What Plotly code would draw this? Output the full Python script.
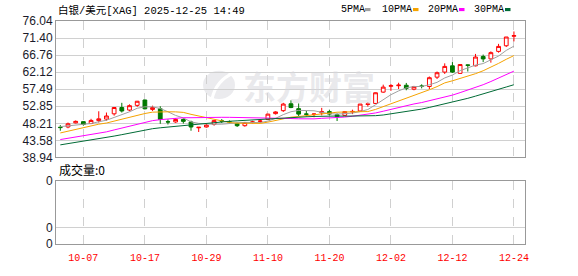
import plotly.graph_objects as go
import pandas as pd

# ---------------- data ----------------
dates = ["10-02","10-03","10-06","10-07","10-08","10-09","10-10","10-13","10-14","10-15",
         "10-16","10-17","10-20","10-21","10-22","10-23","10-24","10-27","10-28","10-29",
         "10-30","10-31","11-03","11-04","11-05","11-06","11-07","11-10","11-11","11-12",
         "11-13","11-14","11-17","11-18","11-19","11-20","11-21","11-24","11-25","11-26",
         "11-27","11-28","12-01","12-02","12-03","12-04","12-05","12-08","12-09","12-10",
         "12-11","12-12","12-15","12-16","12-17","12-18","12-19","12-22","12-23","12-24"]

opens = [47.15,47.22,48.34,48.67,48.16,48.95,49.37,50.80,52.51,51.82,
         53.10,54.56,52.00,52.17,48.65,48.59,49.27,48.59,47.00,47.22,
         47.95,48.88,48.62,48.16,47.57,48.50,48.75,49.27,50.85,51.66,
         53.53,52.20,50.75,50.60,51.05,51.40,50.55,50.38,51.30,51.57,
         53.35,53.62,56.70,58.30,58.45,58.57,57.50,58.35,58.23,60.77,
         62.15,63.85,61.80,64.10,63.85,66.40,65.73,67.78,69.31,71.90]
highs = [47.73,48.42,49.00,48.75,49.44,51.49,51.15,52.60,53.79,53.37,
         54.30,54.60,53.02,52.85,49.27,49.60,49.60,48.93,47.20,48.25,
         49.00,49.37,49.00,48.42,48.59,48.90,49.30,50.80,51.50,53.79,
         54.48,53.62,51.57,50.90,52.42,51.92,50.90,51.50,51.92,53.45,
         53.96,56.60,58.73,58.90,59.24,59.20,58.40,58.82,60.95,62.30,
         64.53,64.86,64.20,64.20,67.09,66.91,67.78,69.82,71.69,73.20]
lows = [46.20,46.88,48.20,47.57,48.00,48.42,48.93,50.30,51.15,51.49,
        52.69,52.00,51.57,48.09,47.90,48.34,48.16,46.20,45.86,47.06,
        47.57,48.30,48.20,47.22,47.30,48.20,48.30,49.10,50.60,51.31,
        52.33,50.21,50.04,49.87,50.38,50.38,48.84,50.20,50.72,51.40,
        52.77,53.50,56.53,57.04,57.55,57.20,57.20,57.72,57.55,60.26,
        61.64,61.90,61.70,62.30,63.70,64.86,64.71,67.43,68.96,70.49]
closes = [47.06,48.09,48.75,47.90,49.00,49.44,50.21,52.51,51.57,53.02,
          54.22,52.17,52.51,49.27,48.59,49.27,48.75,47.22,47.14,47.73,
          48.95,48.84,48.59,47.57,48.42,48.59,48.84,50.72,51.31,53.45,
          52.51,50.72,50.70,50.75,51.40,50.72,50.04,51.40,51.45,53.45,
          53.50,56.53,58.06,58.45,58.60,57.72,58.20,58.30,60.62,61.97,
          63.69,62.15,64.20,64.00,66.24,65.73,67.43,69.13,71.69,72.05]
# closes before the first visible candle (needed for the moving averages)
prior_closes = [38.5,38.8,39.0,39.3,39.4,39.6,39.8,40.0,40.2,40.2,
                41.2,41.6,41.8,42.1,42.3,42.5,42.0,41.9,42.2,42.4,
                43.0,43.5,43.9,44.2,44.8,47.0,47.3,47.6,47.64]

ma_periods = [5, 10, 20, 30]
ma_names = ["5PMA", "10PMA", "20PMA", "30PMA"]
ma_colors = ["#a0a0a0", "#f5a300", "#ff00ff", "#006b36"]

y_ticks = [38.94, 43.58, 48.21, 52.85, 57.49, 62.12, 66.76, 71.40, 76.04]
x_tick_dates = ["10-07","10-17","10-29","11-10","11-20","12-02","12-12","12-24"]

title_text = "白银/美元[XAG] 2025-12-25 14:49"
volume_text = "成交量:0"

# ---------------- figure ----------------
W, H = 578, 276
L, R, T, B = 56, 53, 21, 18
PW, PH = W - L - R, H - T - B


def px_x(px):
    return (px - L) / PW


def px_y(py):
    return (H - B - py) / PH


idx = list(range(len(dates)))
all_closes = pd.Series(prior_closes + closes)

fig = go.Figure()

fig.add_trace(go.Candlestick(
    x=idx, open=opens, high=highs, low=lows, close=closes,
    increasing=dict(line=dict(color="#ff0000", width=1), fillcolor="#ffffff"),
    decreasing=dict(line=dict(color="#007800", width=1), fillcolor="#007800"),
    xaxis="x", yaxis="y", showlegend=False, hoverinfo="skip"))

for p, name, col in zip(ma_periods, ma_names, ma_colors):
    ma = all_closes.rolling(p).mean().iloc[len(prior_closes):].tolist()
    fig.add_trace(go.Scatter(x=idx, y=ma, mode="lines", name=name,
                             line=dict(color=col, width=1, shape="linear"),
                             xaxis="x", yaxis="y", showlegend=False, hoverinfo="skip"))

# empty volume panel
fig.add_trace(go.Scatter(x=idx, y=[0] * len(idx), mode="lines",
                         line=dict(color="rgba(0,0,0,0)", width=0),
                         xaxis="x2", yaxis="y2", showlegend=False, hoverinfo="skip"))

tick_pos = [dates.index(d) for d in x_tick_dates]
xrange = [-0.56, len(dates) + 0.44]

main_bottom = px_y(166)
vol_top = px_y(191)

axis_common = dict(showline=True, linecolor="#999999", linewidth=1, mirror=True,
                   zeroline=False, ticks="")

fig.update_layout(
    width=W, height=H,
    margin=dict(l=L, r=R, t=T, b=B),
    paper_bgcolor="white", plot_bgcolor="white",
    showlegend=False,
    xaxis=dict(domain=[0, 1], range=xrange, anchor="y",
               tickvals=tick_pos, showticklabels=False,
               showgrid=True, gridcolor="#d0d0d0", griddash="dash", gridwidth=1,
               rangeslider=dict(visible=False), **axis_common),
    yaxis=dict(domain=[main_bottom, 1], range=[y_ticks[0], y_ticks[-1]], anchor="x",
               tickvals=y_ticks, ticktext=["%.2f" % v for v in y_ticks],
               showgrid=True, gridcolor="#d0d0d0", gridwidth=1,
               tickfont=dict(family="Liberation Sans", size=12, color="#1a1a2a"),
               **axis_common),
    xaxis2=dict(domain=[0, 1], range=xrange, anchor="y2", matches="x",
                tickvals=tick_pos, ticktext=x_tick_dates,
                tickfont=dict(family="Liberation Mono", size=10, color="#ff0000"),
                ticklabelstandoff=4,
                showgrid=True, gridcolor="#d0d0d0", griddash="dash", gridwidth=1,
                **axis_common),
    yaxis2=dict(domain=[0, vol_top], range=[0, 1], anchor="x2",
                tickvals=[0, 0.254, 1], ticktext=["0", "0", "0"],
                showgrid=True, gridcolor="#d0d0d0", gridwidth=1,
                tickfont=dict(family="Liberation Sans", size=12, color="#1a1a2a"),
                **axis_common),
)

annotations = []
annotations.append(dict(text=title_text, xref="paper", yref="paper",
                        x=px_x(56), y=px_y(10), xanchor="left", yanchor="middle",
                        showarrow=False,
                        font=dict(family="Liberation Mono, Noto Sans CJK SC", size=10.5, color="#000000")))
annotations.append(dict(text=volume_text, xref="paper", yref="paper",
                        x=px_x(57), y=px_y(179), xanchor="left", yanchor="middle",
                        showarrow=False,
                        font=dict(family="Noto Sans CJK SC", size=12, color="#000000")))

legend_text_x = [339, 380, 426, 472]
legend_box_x = [365, 413, 459, 505]
shapes = []
for name, col, tx, bx in zip(ma_names, ma_colors, legend_text_x, legend_box_x):
    annotations.append(dict(text=name, xref="paper", yref="paper",
                            x=px_x(tx), y=px_y(9), xanchor="left", yanchor="middle",
                            showarrow=False,
                            font=dict(family="Liberation Mono", size=10, color="#000000")))
    shapes.append(dict(type="rect", xref="paper", yref="paper",
                       x0=px_x(bx), x1=px_x(bx + 5.5), y0=px_y(10.5), y1=px_y(7.2),
                       fillcolor=col, line=dict(width=0)))

# watermark
annotations.append(dict(text="<b>东方财富</b>", xref="paper", yref="paper",
                        x=px_x(309), y=px_y(90), xanchor="center", yanchor="middle",
                        showarrow=False,
                        font=dict(family="Noto Sans CJK SC", size=33, color="rgba(215,215,220,0.55)")))
shapes.append(dict(type="circle", xref="paper", yref="paper", layer="below",
                   x0=px_x(203), x1=px_x(235), y0=px_y(104), y1=px_y(74),
                   fillcolor="#ebebee", line=dict(width=0)))
shapes.append(dict(type="path", xref="paper", yref="paper", layer="below",
                   path="M %f %f Q %f %f %f %f" % (px_x(212), px_y(104), px_x(216), px_y(84),
                                                  px_x(234), px_y(76)),
                   line=dict(color="white", width=3)))

fig.update_layout(annotations=annotations, shapes=shapes)

fig.write_html("out.html")
